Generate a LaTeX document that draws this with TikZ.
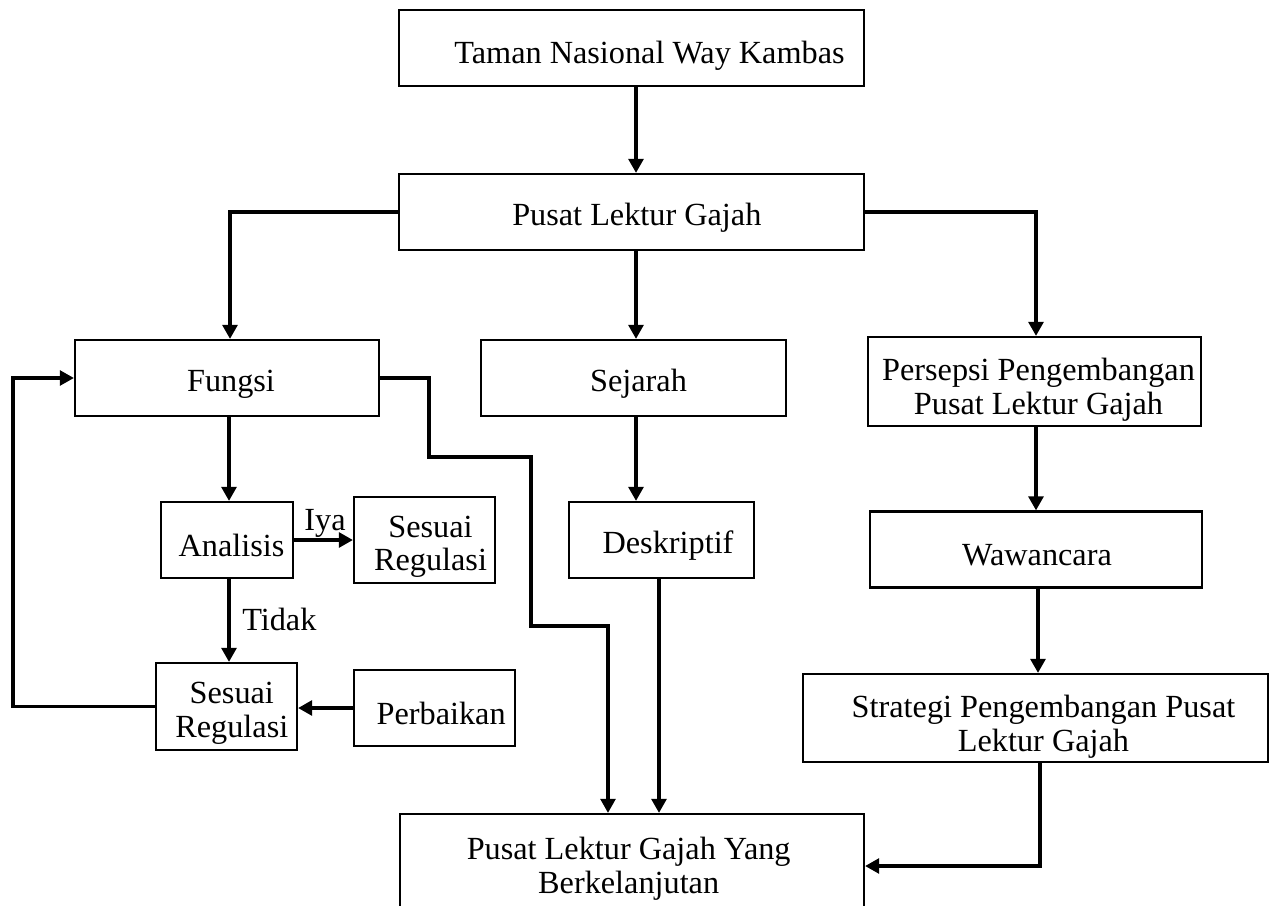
\documentclass[tikz,border=0pt]{standalone}
\usepackage{fontspec}
\setmainfont{Liberation Serif}
\usetikzlibrary{arrows.meta}
\begin{document}
\begin{tikzpicture}[x=0.75pt,y=-0.75pt,
  box/.style={draw, line width=1.6pt, inner sep=0pt},
  txt/.style={inner sep=0pt, align=center, font=\fontsize{24.2}{25.3}\selectfont},
  arr/.style={line width=2.8pt, -{Triangle[length=10.5pt,width=11pt]}},
  lnk/.style={line width=2.5pt, -{Triangle[length=10.5pt,width=11pt]}},
  lbl/.style={font=\fontsize{24.2}{25.3}\selectfont, inner sep=0pt}
]
\useasboundingbox (0,0) rectangle (1275,906);
\clip (0,0) rectangle (1275,906);

% boxes (text shifted as in the reference)
\node[box, minimum width=348.75pt, minimum height=57pt,
  label={[txt,xshift=13.5pt,yshift=-5.5pt]center:Taman Nasional Way Kambas}] (taman) at (631.5,48) {};
\node[box, minimum width=348.75pt, minimum height=57pt,
  label={[txt,xshift=4pt,yshift=-4.5pt]center:Pusat Lektur Gajah}] (pusat) at (631.5,212) {};
\node[box, minimum width=228pt, minimum height=57pt,
  label={[txt,xshift=3pt,yshift=-4.5pt]center:Fungsi}] (fungsi) at (227,378) {};
\node[box, minimum width=228.75pt, minimum height=57pt,
  label={[txt,xshift=3.75pt,yshift=-4.5pt]center:Sejarah}] (sejarah) at (633.5,378) {};
\node[box, minimum width=249.75pt, minimum height=66.75pt,
  label={[txt,xshift=3pt,yshift=-6pt]center:Persepsi Pengembangan\\Pusat Lektur Gajah}] (persepsi) at (1034.5,381.5) {};
\node[box, minimum width=99pt, minimum height=57pt,
  label={[txt,xshift=3.4pt,yshift=-4pt]center:Analisis}] (analisis) at (227,540) {};
\node[box, minimum width=105.75pt, minimum height=64.5pt,
  label={[txt,xshift=4.5pt,yshift=-5pt]center:Sesuai\\Regulasi}] (sesuaiA) at (424.5,540) {};
\node[box, minimum width=138.75pt, minimum height=57pt,
  label={[txt,xshift=4.9pt,yshift=-4pt]center:Deskriptif}] (deskriptif) at (661.5,540) {};
\node[box, minimum width=249pt, minimum height=57pt,
  label={[txt,xshift=0.75pt,yshift=-4pt]center:Wawancara}] (wawancara) at (1036,549.5) {};
\node[box, minimum width=105.75pt, minimum height=65.25pt,
  label={[txt,xshift=4pt,yshift=-5pt]center:Sesuai\\Regulasi}] (sesuaiB) at (226.5,706.5) {};
\node[box, minimum width=120.75pt, minimum height=57pt,
  label={[txt,xshift=5pt,yshift=-4pt]center:Perbaikan}] (perbaikan) at (434.5,708) {};
\node[box, minimum width=348.75pt, minimum height=66pt,
  label={[txt,xshift=6pt,yshift=-6.5pt]center:Strategi Pengembangan Pusat\\Lektur Gajah}] (strategi) at (1035.5,718) {};
\node[box, minimum width=348pt, minimum height=78pt,
  label={[txt,xshift=-2.5pt,yshift=-2pt]center:Pusat Lektur Gajah Yang\\Berkelanjutan}] (akhir) at (632,866) {};

% labels
\node[lbl, anchor=base] (iya) at (325,530) {Iya};
\node[lbl, anchor=base west] (tidak) at (242,630) {Tidak};

% helper coordinates
\coordinate (xa) at (636,0);
\coordinate (xb) at (230,0);
\coordinate (xc) at (229,0);
\coordinate (xd) at (659,0);
\coordinate (xe) at (1036,0);
\coordinate (xf) at (1038,0);
\coordinate (xg) at (1040,0);
\coordinate (fb) at (13,0);
\coordinate (k1) at (429,457);
\coordinate (k2) at (531,626);
\coordinate (k3) at (608,0);

% connectors
\draw[arr] (taman.south -| xa) -- (pusat.north -| xa);
\draw[arr] (pusat.west) -| (fungsi.north -| xb);
\draw[arr] (pusat.south -| xa) -- (sejarah.north -| xa);
\draw[arr] (pusat.east) -| (persepsi.north -| xe);
\draw[arr] (fungsi.south -| xc) -- (analisis.north -| xc);
\draw[arr] (analisis.east) -- (sesuaiA.west |- analisis.east);
\draw[arr] (analisis.south -| xc) -- (sesuaiB.north -| xc);
\draw[arr] (perbaikan.west) -- (sesuaiB.east |- perbaikan.west);
\draw[lnk] (sesuaiB.west) -| (fb |- fungsi.west) -- (fungsi.west);
\draw[lnk] (fungsi.east) -| (k1) -| (k2) -| (akhir.north -| k3);
\draw[arr] (sejarah.south -| xa) -- (deskriptif.north -| xa);
\draw[arr] (deskriptif.south -| xd) -- (akhir.north -| xd);
\draw[arr] (persepsi.south -| xe) -- (wawancara.north -| xe);
\draw[arr] (wawancara.south -| xf) -- (strategi.north -| xf);
\draw[lnk] (strategi.south -| xg) |- (akhir.east);
\end{tikzpicture}
\end{document}
